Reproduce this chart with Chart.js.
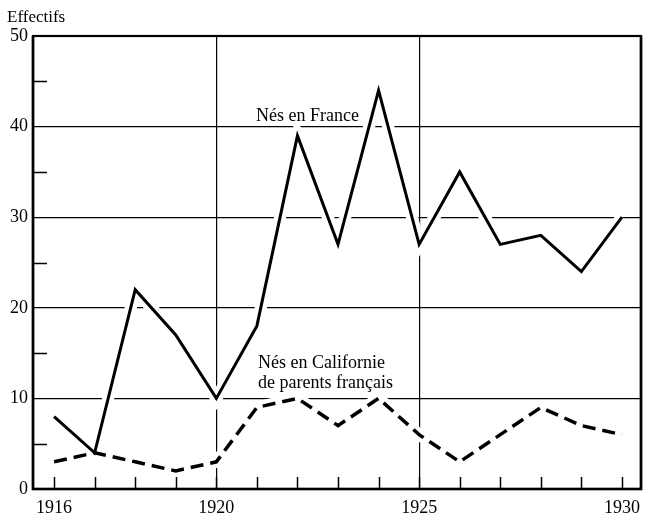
<!DOCTYPE html>
<html>
<head>
<meta charset="utf-8">
<script src="https://cdn.jsdelivr.net/npm/chart.js@4.4.1/dist/chart.umd.min.js"></script>
<style>
    html, body { margin: 0; padding: 0; background: #fff; }
    canvas { display: block; }
</style>
</head>
<body>
<canvas id="chart" width="646" height="517"></canvas>
<script>
const years = [1916, 1917, 1918, 1919, 1920, 1921, 1922, 1923, 1924, 1925, 1926, 1927, 1928, 1929, 1930];
const nesEnFrance = [8, 4, 22, 17, 10, 18, 39, 27, 44, 27, 35, 27, 28, 24, 30];
const nesEnCalifornie = [3, 4, 3, 2, 3, 9, 10, 7, 10, 6, 3, 6, 9, 7, 6];
const xTickLabels = [1916, 1920, 1925, 1930];
const xGridYears = [1920, 1925];
const yGridValues = [10, 20, 30, 40];
const yMinorTicks = [5, 15, 25, 35, 45];

const FONT = '"Liberation Serif", "DejaVu Serif", serif';

const toPoints = (values) => values.map((v, i) => ({ x: years[i], y: v }));

// libellés posés en coordonnées de données
const seriesLabels = [
    { lines: ['Nés en France'], x: 1922.25, y: 41.1, align: 'center' },
    { lines: ['Nés en Californie', 'de parents français'], x: 1921.03, y: 13.9, align: 'left' },
];

const framePlugin = {
    id: 'frame',
    afterDatasetsDraw(chart) {
        const { ctx, chartArea: area, scales: { x, y } } = chart;
        ctx.save();

        // libellés des séries
        ctx.fillStyle = '#000';
        ctx.font = '18px ' + FONT;
        ctx.textBaseline = 'middle';
        seriesLabels.forEach((label) => {
            ctx.textAlign = label.align;
            const px = x.getPixelForValue(label.x);
            const py = y.getPixelForValue(label.y);
            label.lines.forEach((line, i) => ctx.fillText(line, px, py + i * 20));
        });

        // petites graduations intérieures
        ctx.strokeStyle = '#000';
        ctx.lineWidth = 1.5;
        ctx.beginPath();
        years.forEach((year) => {
            const px = Math.round(x.getPixelForValue(year)) + 0.5;
            ctx.moveTo(px, area.bottom);
            ctx.lineTo(px, area.bottom - 12);
        });
        yMinorTicks.forEach((v) => {
            const py = Math.round(y.getPixelForValue(v)) + 0.5;
            ctx.moveTo(area.left, py);
            ctx.lineTo(area.left + 14, py);
        });
        ctx.stroke();

        // cadre
        ctx.lineWidth = 2.2;
        ctx.strokeRect(area.left, area.top, area.right - area.left, area.bottom - area.top);
        ctx.lineWidth = 2.6;
        ctx.beginPath();
        ctx.moveTo(area.left, area.top);
        ctx.lineTo(area.left, area.bottom);
        ctx.lineTo(area.right, area.bottom);
        ctx.lineTo(area.right, area.top);
        ctx.stroke();

        // titre de l'axe
        ctx.font = '17px ' + FONT;
        ctx.textAlign = 'left';
        ctx.textBaseline = 'alphabetic';
        ctx.fillText('Effectifs', 7, 22);
        ctx.restore();
    },
};

new Chart(document.getElementById('chart'), {
    type: 'line',
    data: {
        datasets: [
            {
                data: toPoints(nesEnFrance),
                borderColor: '#000',
                borderWidth: 3,
                pointRadius: 0,
                tension: 0,
                order: 0,
            },
            {
                data: toPoints(nesEnCalifornie),
                borderColor: '#000',
                borderWidth: 3.5,
                borderDash: [13, 7],
                pointRadius: 0,
                tension: 0,
                order: 0,
            },
            // halo blanc qui coupe le quadrillage autour des courbes
            {
                data: toPoints(nesEnFrance),
                borderColor: '#fff',
                borderWidth: 12,
                pointRadius: 0,
                order: 1,
            },
            {
                data: toPoints(nesEnCalifornie),
                borderColor: '#fff',
                borderWidth: 12,
                pointRadius: 0,
                order: 1,
            },
        ],
    },
    options: {
        responsive: false,
        animation: false,
        layout: { padding: { top: 36, right: 5, left: 0, bottom: 0 } },
        plugins: { legend: { display: false }, tooltip: { enabled: false } },
        scales: {
            x: {
                type: 'linear',
                min: 1915.48,
                max: 1930.47,
                afterBuildTicks: (scale) => {
                    scale.ticks = years.map((v) => ({ value: v }));
                },
                afterFit: (scale) => {
                    scale.height = 28;
                    scale.paddingLeft = 0;
                    scale.paddingRight = 0;
                },
                border: { display: false },
                grid: {
                    drawTicks: false,
                    lineWidth: 1.2,
                    color: (ctx) => (xGridYears.includes(ctx.tick?.value) ? '#000' : 'rgba(0,0,0,0)'),
                },
                ticks: {
                    autoSkip: false,
                    maxRotation: 0,
                    padding: 8,
                    color: '#000',
                    font: { family: FONT, size: 18 },
                    callback: (v) => (xTickLabels.includes(v) ? String(v) : ''),
                },
            },
            y: {
                min: 0,
                max: 50,
                afterFit: (scale) => {
                    scale.width = 33;
                    scale.paddingTop = 0;
                    scale.paddingBottom = 0;
                },
                border: { display: false },
                grid: {
                    drawTicks: false,
                    lineWidth: 1.2,
                    color: (ctx) => (yGridValues.includes(ctx.tick?.value) ? '#000' : 'rgba(0,0,0,0)'),
                },
                ticks: {
                    stepSize: 10,
                    padding: 5,
                    color: '#000',
                    font: { family: FONT, size: 18 },
                },
            },
        },
    },
    plugins: [framePlugin],
});
</script>
</body>
</html>
